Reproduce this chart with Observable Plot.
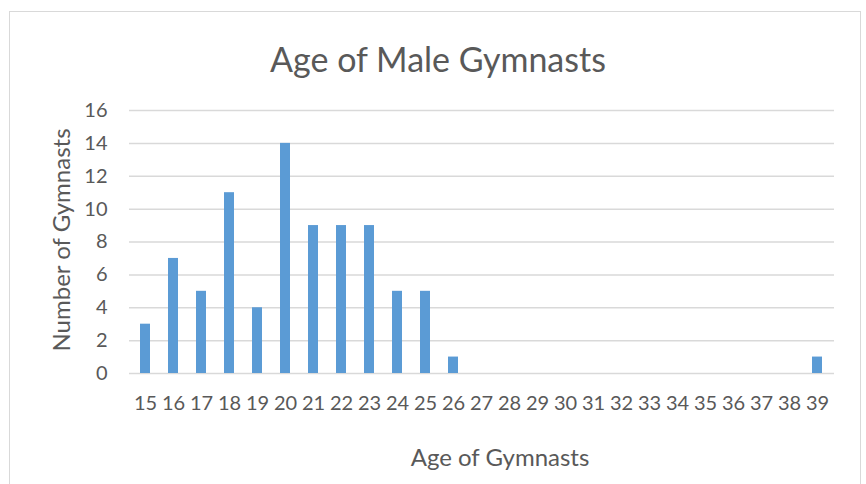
<!DOCTYPE html>
<html>
<head>
<meta charset="utf-8">
<script src="https://cdn.jsdelivr.net/npm/d3@7"></script>
<script src="https://cdn.jsdelivr.net/npm/@observablehq/plot@0.6"></script>
<style>
  html, body { margin: 0; padding: 0; background: #fff; }
  #wrap { position: relative; width: 866px; height: 484px; overflow: hidden; }
  #border { position: absolute; left: 9px; top: 11px; width: 852px; height: 480px; border: 1.5px solid #d9d9d9; box-sizing: border-box; }
  #chart { position: absolute; left: 0; top: 0; }
</style>
</head>
<body>
<div id="wrap"><div id="border"></div><div id="chart"></div></div>
<script>
const title = "Age of Male Gymnasts";
const xLabel = "Age of Gymnasts";
const yLabel = "Number of Gymnasts";
const ages = ["15","16","17","18","19","20","21","22","23","24","25","26","27","28","29","30","31","32","33","34","35","36","37","38","39"];
const counts = [3,7,5,11,4,14,9,9,9,5,5,1,0,0,0,0,0,0,0,0,0,0,0,0,1];
const yTicks = [0,2,4,6,8,10,12,14,16];

const data = ages.map((a, i) => ({age: a, count: counts[i]}));
const font = "Lato, 'Open Sans', sans-serif";
const grey = "#595959";

const plot = Plot.plot({
  width: 866,
  height: 484,
  marginLeft: 129,
  marginRight: 32,
  marginTop: 110,
  marginBottom: 111,
  style: {fontFamily: font, background: "transparent", color: grey},
  x: {domain: ages, paddingInner: 0.64, paddingOuter: 0.32, label: null},
  y: {domain: [0, 16], label: null},
  marks: [
    Plot.gridY(yTicks, {stroke: "#d9d9d9", strokeOpacity: 1, strokeWidth: 1.5}),
    Plot.barY(data, {x: "age", y: "count", fill: "#5b9bd5"}),
    Plot.axisY(yTicks, {tickSize: 0, tickPadding: 22, fontSize: 20, fill: grey, label: null}),
    Plot.axisX({tickSize: 0, tickPadding: 22, fontSize: 20, fill: grey, label: null}),
    Plot.text([title], {frameAnchor: "top", dy: -63, dx: -44, fontSize: 34, fill: grey, text: d => d}),
    Plot.text([xLabel], {frameAnchor: "bottom", dy: 92, dx: 18, fontSize: 24, fill: grey, text: d => d}),
    Plot.text([yLabel], {frameAnchor: "left", dx: -67, dy: -2, rotate: -90, textAnchor: "middle", fontSize: 24, fill: grey, text: d => d})
  ]
});
document.getElementById("chart").appendChild(plot);
</script>
</body>
</html>
